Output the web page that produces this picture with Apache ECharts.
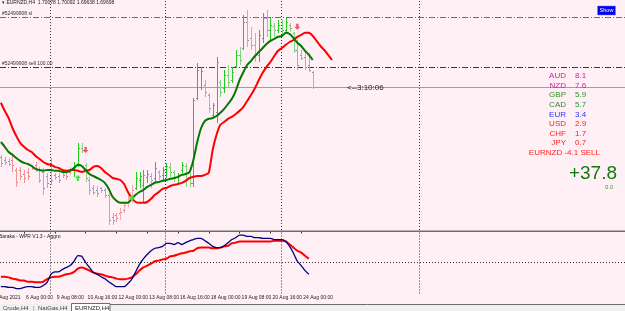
<!DOCTYPE html>
<html><head><meta charset="utf-8">
<script src="https://cdn.jsdelivr.net/npm/echarts@6/dist/echarts.min.js"></script>
<style>html,body{margin:0;padding:0;background:#fff0f5;}#c{width:625px;height:311px;}</style>
</head><body><div id="c"></div>
<script>
// ---------- DATA ----------
const firstBar = 2; // bar index of first value in the arrays
const opens = [1.6795,1.6787,1.6785,1.6787,1.6762,1.6762,1.6752,1.6757,1.6772,1.6775,
1.6765,1.6757,1.6747,1.6775,1.6750,1.6747,1.6757,1.6757,1.6757,1.6762,
1.6775,1.6817,1.6775,1.6737,1.6717,1.6712,1.6717,1.6712,1.6700,1.6645,
1.6650,1.6655,1.6662,1.6680,1.6692,1.6717,1.6737,1.6725,1.6745,1.6747,
1.6742,1.6757,1.6750,1.6757,1.6770,1.6757,1.6747,1.6762,1.6772,1.6742,
1.6730,1.6942,1.6970,1.6975,1.6950,1.6900,1.6907,1.6982,1.6967,1.7000,
1.6987,1.7022,1.7050,1.7067,1.7132,1.7092,1.7075,1.7050,1.7092,1.7142,
1.7112,1.7122,1.7112,1.7125,1.7112,1.7125,1.7105,1.7062,1.7050,1.7045,
1.7025,1.70078];
const highs = [1.6800,1.6795,1.6792,1.6805,1.6767,1.6770,1.6762,1.6767,1.6775,1.6782,
1.6770,1.6767,1.6755,1.6792,1.6755,1.6755,1.6762,1.6762,1.6770,1.6782,
1.6830,1.6830,1.6780,1.6745,1.6725,1.6722,1.6720,1.6717,1.6705,1.6655,
1.6655,1.6667,1.6682,1.6700,1.6725,1.6757,1.6757,1.6762,1.6762,1.6755,
1.6782,1.6762,1.6770,1.6780,1.6780,1.6762,1.6755,1.6782,1.6780,1.6755,
1.6942,1.7030,1.7020,1.6987,1.6955,1.6930,1.7045,1.6987,1.7012,1.7025,
1.7020,1.7062,1.7070,1.7150,1.7162,1.7120,1.7105,1.7112,1.7155,1.7162,
1.7145,1.7130,1.7137,1.7137,1.7142,1.7130,1.7107,1.7087,1.7062,1.7057,
1.7055,1.70092];
const lows = [1.6770,1.6775,1.6772,1.6757,1.6720,1.6737,1.6730,1.6737,1.6762,1.6757,
1.6730,1.6700,1.6717,1.6725,1.6737,1.6730,1.6742,1.6737,1.6750,1.6745,
1.6770,1.6805,1.6732,1.6700,1.6700,1.6695,1.6705,1.6692,1.6625,1.6625,
1.6632,1.6637,1.6655,1.6670,1.6680,1.6712,1.6717,1.6682,1.6730,1.6717,
1.6732,1.6737,1.6737,1.6742,1.6745,1.6732,1.6730,1.6755,1.6720,1.6720,
1.6720,1.6937,1.6962,1.6945,1.6905,1.6892,1.6880,1.6945,1.6955,1.6967,
1.6980,1.7017,1.7025,1.7062,1.7070,1.7062,1.7032,1.7032,1.7080,1.7095,
1.7087,1.7095,1.7105,1.7095,1.7105,1.7107,1.7055,1.7012,1.7037,1.7012,
1.7007,1.69638];
const closes = [1.6780,1.6782,1.6777,1.6775,1.6732,1.6747,1.6742,1.6747,1.6767,1.6762,
1.6737,1.6717,1.6730,1.6737,1.6745,1.6737,1.6750,1.6747,1.6762,1.6772,
1.6817,1.6812,1.6742,1.6712,1.6707,1.6705,1.6712,1.6700,1.6637,1.6637,
1.6642,1.6657,1.6675,1.6692,1.6712,1.6742,1.6747,1.6750,1.6752,1.6737,
1.6767,1.6747,1.6762,1.6772,1.6757,1.6742,1.6750,1.6775,1.6737,1.6730,
1.6937,1.7012,1.7010,1.6957,1.6917,1.6925,1.7032,1.6957,1.7000,1.6982,
1.7007,1.7050,1.7037,1.7132,1.7087,1.7075,1.7050,1.7100,1.7142,1.7112,
1.7125,1.7112,1.7125,1.7112,1.7132,1.7117,1.7062,1.7025,1.7042,1.7020,
1.7012,1.69698];
const maFast = [1.6832,1.6820,1.6807,1.6800,1.6792,1.6785,1.6780,1.6777,1.6772,1.6765,
1.6762,1.6760,1.6762,1.6762,1.6760,1.6760,1.6757,1.6757,1.6760,1.6767,
1.6775,1.6772,1.6762,1.6752,1.6747,1.6742,1.6737,1.6730,1.6715,1.6695,
1.6685,1.6680,1.6680,1.6680,1.6690,1.6700,1.6707,1.6712,1.6720,1.6725,
1.6730,1.6732,1.6735,1.6737,1.6740,1.6742,1.6745,1.6750,1.6752,1.6757,
1.6787,1.6832,1.6867,1.6885,1.6890,1.6892,1.6897,1.6905,1.6915,1.6927,
1.6940,1.6960,1.6987,1.7007,1.7025,1.7035,1.7047,1.7057,1.7067,1.7077,
1.7085,1.7090,1.7095,1.7097,1.7105,1.7102,1.7092,1.7080,1.7072,1.7060,
1.7050,1.7037];
const maSlow = [1.6930,1.6910,1.6892,1.6867,1.6847,1.6830,1.6820,1.6812,1.6807,1.6797,
1.6790,1.6782,1.6777,1.6775,1.6770,1.6767,1.6762,1.6760,1.6762,1.6762,
1.6760,1.6757,1.6760,1.6762,1.6770,1.6772,1.6767,1.6757,1.6750,1.6742,
1.6740,1.6737,1.6727,1.6707,1.6692,1.6682,1.6680,1.6680,1.6682,1.6690,
1.6700,1.6707,1.6715,1.6717,1.6722,1.6725,1.6727,1.6730,1.6735,1.6742,
1.6745,1.6747,1.6747,1.6750,1.6755,1.6812,1.6850,1.6875,1.6882,1.6890,
1.6895,1.6902,1.6910,1.6920,1.6935,1.6950,1.6967,1.6987,1.7005,1.7020,
1.7032,1.7047,1.7060,1.7067,1.7075,1.7082,1.7087,1.7095,1.7100,1.7105,
1.7105,1.7097,1.7085,1.7072,1.7062,1.7050,1.7037];
const wprFast = [-89,-89,-90,-90,-92,-92,-90,-89,-89,-90,
-90,-87,-82,-69,-65,-65,-61,-58,-55,-48,
-39,-40,-50,-58,-66,-69,-73,-76,-81,-85,
-89,-89,-89,-84,-77,-65,-53,-44,-37,-31,
-27,-26,-24,-19,-19,-21,-18,-21,-18,-15,
-13,-11,-11,-15,-19,-24,-26,-26,-23,-18,
-13,-10,-6,-6,-8,-8,-10,-10,-11,-11,
-11,-13,-13,-13,-16,-24,-35,-48,-55,-63,-69];
const wprSlow = [-73,-73,-74,-76,-77,-79,-79,-81,-81,-82,
-82,-81,-77,-74,-73,-73,-71,-69,-68,-65,
-60,-58,-60,-63,-66,-68,-69,-71,-73,-74,
-76,-77,-77,-76,-74,-69,-63,-58,-55,-52,
-48,-47,-45,-44,-40,-39,-37,-35,-34,-32,
-31,-27,-26,-26,-26,-27,-27,-26,-24,-23,
-19,-18,-16,-16,-16,-16,-16,-16,-16,-16,
-16,-15,-15,-15,-16,-21,-26,-31,-34,-39,-44];
const tickBars = [8,16,24,32,40,48,56,64,72,80];
const tickLabels = ['6 Aug 00:00','9 Aug 08:00','10 Aug 16:00','12 Aug 00:00','13 Aug 08:00',
  '16 Aug 16:00','18 Aug 00:00','19 Aug 08:00','20 Aug 16:00','24 Aug 00:00'];
const firstTickLabel = '4 Aug 2021';
const weekLines = [14.7, 44.6, 74.7, 110.6];
const slPrice = 1.71445, sellPrice = 1.70195, bidPrice = 1.69698;
const sellArrows = [[24, 1.6812], [79, 1.7120]];
const buyArrows = [[22, 1.6742]];
const crossMarks = [[36, 1.6692]];
const strengthNames = ['AUD','NZD','GBP','CAD','EUR','USD','CHF','JPY'];
const strengthValues = ['8.1','7.6','5.9','5.7','3.4','2.9','1.7','0.7'];
const pairSignal = 'EURNZD -4.1 SELL';
const profitText = '+37.8';
const subProfitText = '0.0';
const headerText = '\u25BE EURNZD,H4  1.70078 1.70092 1.69638 1.69698';

// ---------- STYLE / LAYOUT ----------
const PX_PER_BAR = 3.85;
const XMIN = 1.766, XMAX = XMIN + 625 / PX_PER_BAR;
const YMAX = 1.7187, YMIN = YMAX - 230 * 0.00025;
const strengthColors = ['#cc2299','#cc2299','#2f8f2f','#2f8f2f','#3030ff','#ff2020','#ff2020','#ff2020'];
const FONT = 'Liberation Sans, Arial, sans-serif';
const NARROW = '"Liberation Sans Narrow", "Arial Narrow", "Liberation Sans", sans-serif';
const levelStyles = [
  {color: '#ff2a2a', dash: [6, 2, 1, 2]},
  {color: '#30307a', dash: [6, 2, 1, 2]},
  {color: '#a0a0a0', dash: null}
];

const bars = opens.map((o, k) => {
  const i = k + firstBar;
  const upTrend = maFast[k] > maSlow[k] ? 1 : 0;
  return [i, o, highs[k], lows[k], closes[k], upTrend];
});
const levels = [[slPrice, 0], [sellPrice, 1], [bidPrice, 2]];
const pairs = (arr) => arr.map((v, k) => [k + firstBar, v]);

function renderBar(params, api) {
  const x = api.value(0);
  const o = api.coord([x, api.value(1)]);
  const h = api.coord([x, api.value(2)]);
  const l = api.coord([x, api.value(3)]);
  const c = api.coord([x, api.value(4)]);
  const up = api.value(5) > 0.5;
  const rising = api.value(4) >= api.value(1);
  const color = up ? (rising ? '#22cc22' : '#80d880') : (rising ? '#f5aaaa' : '#f29494');
  const px = Math.round(h[0]);
  const tick = '#8888b4';
  const oy = Math.round(o[1]), cy = Math.round(c[1]);
  return {
    type: 'group',
    children: [
      {type: 'rect', shape: {x: px, y: Math.round(h[1]), width: 1, height: Math.max(1, Math.round(l[1]) - Math.round(h[1]))}, style: {fill: color}},
      {type: 'rect', shape: {x: px - 1, y: oy, width: 1, height: 1}, style: {fill: tick}},
      {type: 'rect', shape: {x: px + 1, y: cy, width: 1, height: 1}, style: {fill: tick}}
    ]
  };
}

function renderLevel(params, api) {
  const y = Math.round(api.coord([XMIN, api.value(0)])[1]) + 0.5;
  const st = levelStyles[api.value(1)];
  return {type: 'line', shape: {x1: params.coordSys.x, y1: y, x2: params.coordSys.x + params.coordSys.width, y2: y},
    style: {stroke: st.color, lineWidth: 1, lineDash: st.dash}};
}

const dotted = {color: '#333', width: 1, type: [1, 2]};
const vLines = weekLines.map(v => ({xAxis: v}));

function txt(x, y, text, size, color, align, family, weight) {
  return {
    type: 'text', x: x, y: y, silent: true, z: 100,
    style: {text: text, fill: color, font: (weight || 'normal') + ' ' + size + 'px ' + (family || FONT),
      align: align || 'left', verticalAlign: 'middle',
      textAlign: align || 'left', textVerticalAlign: 'middle'}
  };
}

const graphics = [];
graphics.push({type: 'rect', shape: {x: 0, y: 230.5, width: 625, height: 1.6}, style: {fill: '#6e6e6e'}, silent: true, z: 90});
graphics.push(txt(2, 2.5, headerText, 5, '#222', 'left', NARROW));
graphics.push(txt(2, 13.5, '#52499908 sl', 5, '#333', 'left', NARROW));
graphics.push(txt(2, 64, '#52499908 sell 100.00', 5, '#333', 'left', NARROW));
graphics.push(txt(347, 88, '<--3:10:06', 8, '#222'));
graphics.push({type: 'rect', shape: {x: 597.5, y: 6, width: 18, height: 9}, style: {fill: '#0000ee', stroke: '#7a7aff', lineWidth: 0.5}, silent: true, z: 95});
graphics.push(txt(606.5, 10.5, 'Show', 5.5, '#ffffff', 'center', NARROW));
strengthNames.forEach((n, k) => {
  const y = 76 + k * 9.6;
  graphics.push(txt(566, y, n, 8, strengthColors[k], 'right'));
  graphics.push(txt(575, y, strengthValues[k], 8, strengthColors[k], 'left'));
});
graphics.push(txt(600, 153, pairSignal, 8, '#ff2020', 'right'));
graphics.push(txt(617, 173.5, profitText, 19, '#117711', 'right'));
graphics.push(txt(613, 187, subProfitText, 5.5, '#2f8f2f', 'right', NARROW));
graphics.push(txt(-1, 237, 'Baraka - WPR V1.3 - Aggro', 5, '#222', 'left', NARROW));
graphics.push(txt(-5, 297.7, firstTickLabel, 5, '#222', 'left', NARROW));
graphics.push({type: 'rect', shape: {x: 0, y: 304, width: 625, height: 7}, style: {fill: '#f0f0f0'}, silent: true, z: 90});
graphics.push({type: 'line', shape: {x1: 110, y1: 304.5, x2: 625, y2: 304.5}, style: {stroke: '#6d6d6d', lineWidth: 1}, silent: true, z: 91});
graphics.push({type: 'rect', shape: {x: 71.5, y: 303.5, width: 38.5, height: 8}, style: {fill: '#ffffff', stroke: '#6d6d6d', lineWidth: 1}, silent: true, z: 91});
graphics.push(txt(3, 308.5, 'Crude,H4', 6, '#444', 'left', NARROW));
graphics.push(txt(33, 308.5, '|', 6, '#888', 'left', NARROW));
graphics.push(txt(38, 308.5, 'NatGas,H4', 6, '#444', 'left', NARROW));
graphics.push(txt(75, 308.5, 'EURNZD,H4', 6, '#222', 'left', NARROW));

const mlBase = {silent: true, symbol: 'none', label: {show: false}, animation: false, precision: 6};

const chart = echarts.init(document.getElementById('c'), null, {renderer: 'canvas'});
chart.setOption({
  backgroundColor: '#fff0f5',
  animation: false,
  grid: [
    {left: 0, right: 0, top: 0, height: 230},
    {left: 0, right: 0, top: 231.5, height: 62}
  ],
  xAxis: [
    {type: 'value', gridIndex: 0, min: XMIN, max: XMAX, show: false},
    {type: 'value', gridIndex: 1, min: XMIN, max: XMAX,
      splitLine: {show: false},
      axisLine: {show: true, lineStyle: {color: '#555', width: 1}},
      axisTick: {show: true, customValues: tickBars, length: 2, lineStyle: {color: '#333'}},
      axisLabel: {show: true, customValues: tickBars, margin: 1.5, align: 'left', fontSize: 5,
        fontFamily: NARROW, color: '#222', padding: [0, 0, 0, 2],
        showMinLabel: true, showMaxLabel: true, hideOverlap: false,
        formatter: v => tickLabels[tickBars.indexOf(Math.round(v))] || ''}}
  ],
  yAxis: [
    {type: 'value', gridIndex: 0, min: YMIN, max: YMAX, show: false, splitLine: {show: false}},
    {type: 'value', gridIndex: 1, min: -100, max: 0, show: false, splitLine: {show: false}}
  ],
  graphic: {elements: graphics},
  series: [
    {type: 'custom', name: 'levels', xAxisIndex: 0, yAxisIndex: 0, data: levels, renderItem: renderLevel, z: 1,
      encode: {y: 0}, silent: true},
    {type: 'custom', name: 'bars', xAxisIndex: 0, yAxisIndex: 0, data: bars, renderItem: renderBar, z: 2, clip: true,
      encode: {x: 0, y: [1, 2, 3, 4]},
      markLine: Object.assign({}, mlBase, {lineStyle: dotted, data: vLines})},
    {type: 'line', name: 'maSlow', xAxisIndex: 0, yAxisIndex: 0, data: pairs(maSlow), showSymbol: false, z: 4,
      itemStyle: {color: '#ff0000'}, lineStyle: {color: '#ff0000', width: 2}, smooth: 0.2},
    {type: 'line', name: 'maFast', xAxisIndex: 0, yAxisIndex: 0, data: pairs(maFast), showSymbol: false, z: 5,
      itemStyle: {color: '#007a00'}, lineStyle: {color: '#007a00', width: 2}, smooth: 0.2},
    {type: 'scatter', xAxisIndex: 0, yAxisIndex: 0, data: sellArrows, z: 6,
      symbol: 'path://M3,0H7V5H10L5,10L0,5H3Z', symbolSize: [6, 6], itemStyle: {color: '#ff2a2a'}},
    {type: 'scatter', xAxisIndex: 0, yAxisIndex: 0, data: buyArrows, z: 6,
      symbol: 'path://M5,0L10,5H7V10H3V5H0Z', symbolSize: [6, 6], itemStyle: {color: '#22dd22'}},
    {type: 'scatter', xAxisIndex: 0, yAxisIndex: 0, data: crossMarks, z: 6,
      symbol: 'diamond', symbolSize: 6, itemStyle: {color: '#44ff44'}},
    {type: 'line', name: 'wprSlow', xAxisIndex: 1, yAxisIndex: 1, data: pairs(wprSlow), showSymbol: false, z: 4,
      itemStyle: {color: '#ff0000'}, lineStyle: {color: '#ff0000', width: 2}, smooth: 0.2,
      markLine: Object.assign({}, mlBase, {lineStyle: dotted, data: vLines.concat([{yAxis: -50}])})},
    {type: 'line', name: 'wprFast', xAxisIndex: 1, yAxisIndex: 1, data: pairs(wprFast), showSymbol: false, z: 5,
      itemStyle: {color: '#000080'}, lineStyle: {color: '#000080', width: 1.3}, smooth: 0.2}
  ]
});
</script></body></html>
